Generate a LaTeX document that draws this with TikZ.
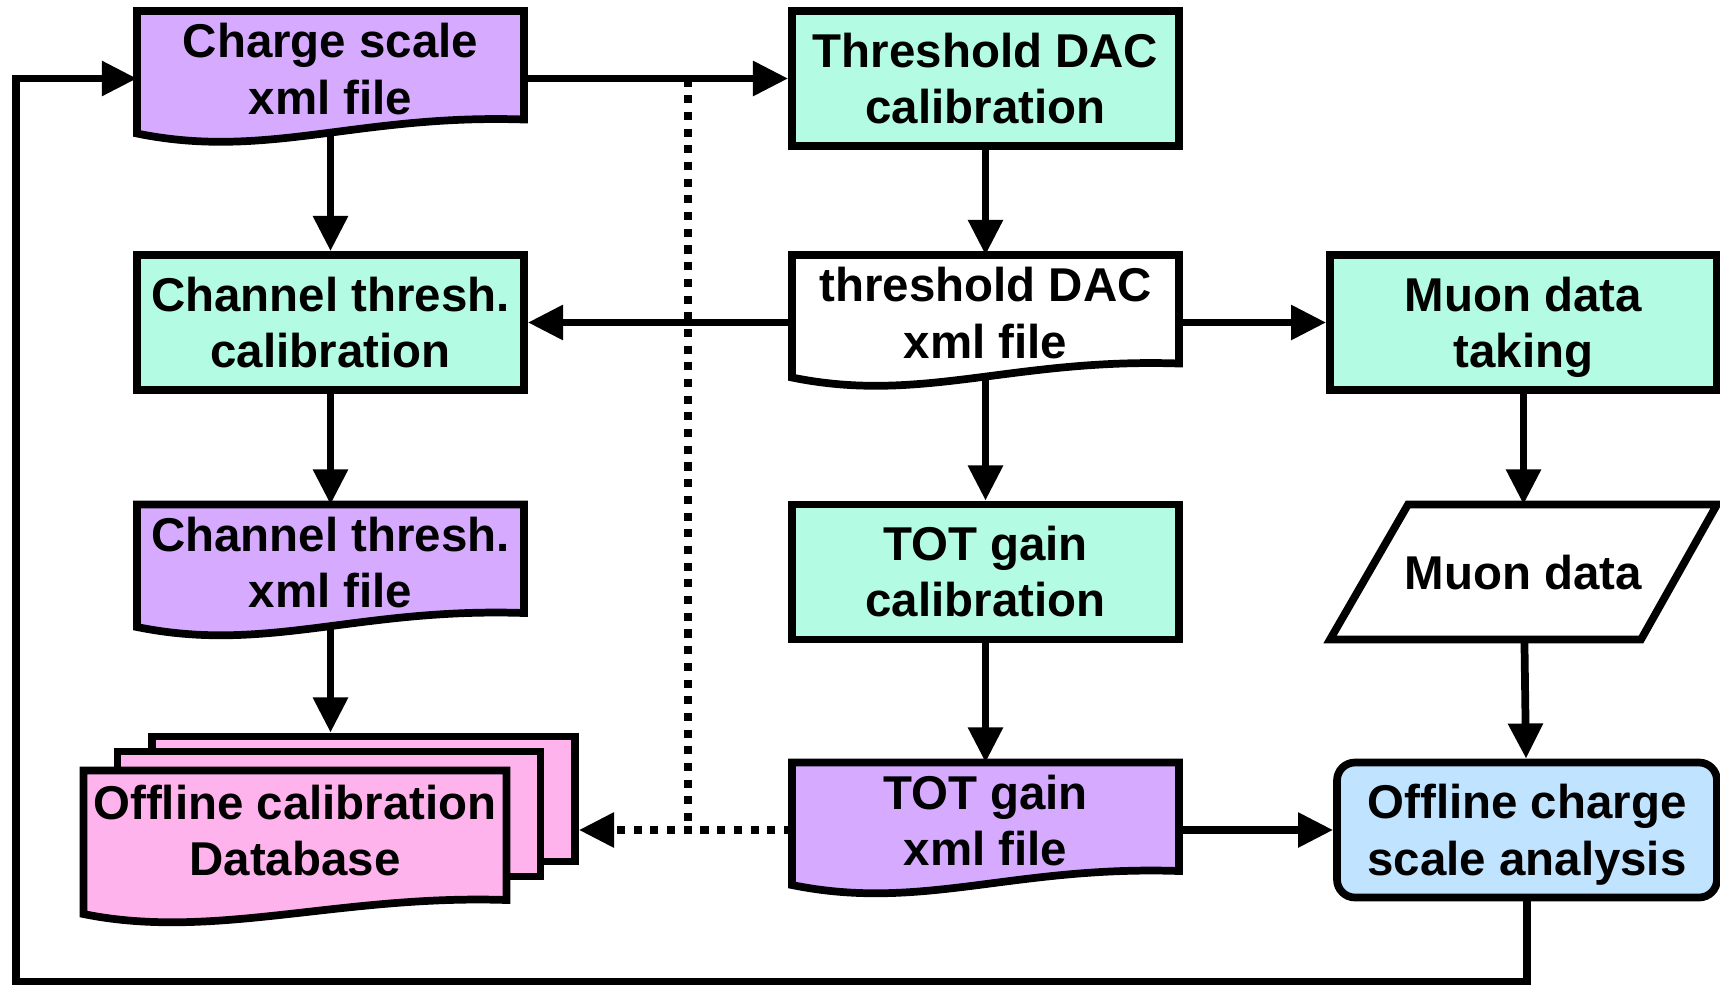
\documentclass[tikz,border=0pt]{standalone}
\usepackage{fontspec}
\setmainfont{Liberation Sans}
\usetikzlibrary{positioning,arrows.meta,backgrounds,calc}
\definecolor{procgreen}{RGB}{179,252,227}
\definecolor{filepurple}{RGB}{214,170,255}
\definecolor{dbpink}{RGB}{255,179,237}
\definecolor{anablue}{RGB}{192,228,255}
\tikzset{main node/.style={rectangle,draw,line width=2.2pt,minimum width=3.87cm,
minimum height=1.35cm,inner sep=0pt,align=center,
font=\fontsize{13.5}{16}\selectfont\bfseries,text height=26pt,text depth=0.4pt},
proc node/.style={main node,fill=procgreen},
doc node/.style={main node,draw=none,outer sep=0pt,text height=20.6pt},
sheet node/.style={main node,fill=dbpink,minimum width=4.23cm,minimum height=1.25cm},
flow/.style={line width=2.2pt,-{Triangle[length=10pt,width=9.5pt]}},
dotflow/.style={flow,dash pattern=on 2.3pt off 2.45pt}}
\newcommand{\docshape}[2]{\draw[line width=2.2pt,fill=#2] (#1.north west) -- (#1.north east)
  -- ([yshift=0.265cm]#1.south east) .. controls ([xshift=-1.67cm,yshift=0.32cm]#1.south east)
  and ([xshift=1.3cm,yshift=-0.14cm]#1.south west) .. ([yshift=0.125cm]#1.south west) -- cycle;}

\begin{document}
\begin{tikzpicture}[node distance=2.44cm and 6.55cm,on grid]
\useasboundingbox (0,0) rectangle (17.2,-9.84);
    \node[doc node] (1) at (3.305,-0.785) {Charge scale\\xml file};
            \node[proc node] (2) [right=of 1] {Threshold DAC\\calibration};
            \node[proc node] (3) [below=of 1] {Channel thresh.\\calibration};
            \node[doc node] (4) [below=of 2] {threshold DAC\\xml file};
            \node[proc node] (5) [right=5.38cm of 4] {Muon data\\taking};
            \node[doc node] (6) [below=2.495cm of 3] {Channel thresh.\\xml file};
            \node[proc node] (7) [below=2.495cm of 4] {TOT gain\\calibration};
            \node[main node,draw=none,outer sep=0pt,text height=10pt,text depth=0pt] (8)
                [below=2.495cm of 5] {Muon data};
            \node[doc node,minimum width=4.23cm,minimum height=1.56cm,text height=16pt] (9)
                [below left=2.765cm and 0.355cm of 6] {Offline calibration\\Database};
            \node[doc node] (10) [below=2.58cm of 7] {TOT gain\\xml file};
            \node[proc node,fill=anablue,rounded corners=0.18cm,minimum width=3.8cm]
                (11) [right=5.415cm of 10] {Offline charge\\scale analysis};

            \begin{pgfonlayer}{background}
            \node[sheet node] (13) [above right=0.495cm and 0.685cm of 9] {};
            \node[sheet node] (12) [above right=0.345cm and 0.34cm of 9] {};
            \docshape{1}{filepurple}
            \docshape{4}{white}
            \docshape{6}{filepurple}
            \docshape{10}{filepurple}
            \docshape{9}{dbpink}
            \draw[line width=2.2pt,fill=white] ([xshift=0.78cm]8.north west) -- (8.north east)
                -- ([xshift=-0.76cm]8.south east) -- (8.south west) -- cycle;
            \end{pgfonlayer}

            \coordinate (tap) at ($(1.east)!0.62!(2.west)$);

            \path[flow]
            (1) edge (2)
            ([yshift=0.11cm]1.south) edge (3)
            (3) edge (6)
            (2) edge (4)
            (4) edge (3)
            (4) edge (5)
            ([yshift=0.11cm]4.south) edge (7)
            (7) edge (10)
            (5) edge (8)
            (8) edge (11)
            (10) edge (11);
            \draw[flow] ([yshift=0.11cm]6.south) -- (6.south |- 13.north);
            \draw[dotflow] (10.west) -- (10.west -| 13.east);
            \draw[dotflow,-] (tap) -- (tap |- 10.west);
            \draw[flow] (11.south) -- ++(0,-0.8) -| ([xshift=-1.21cm]1.west) -- (1.west);

\end{tikzpicture}
\end{document}
